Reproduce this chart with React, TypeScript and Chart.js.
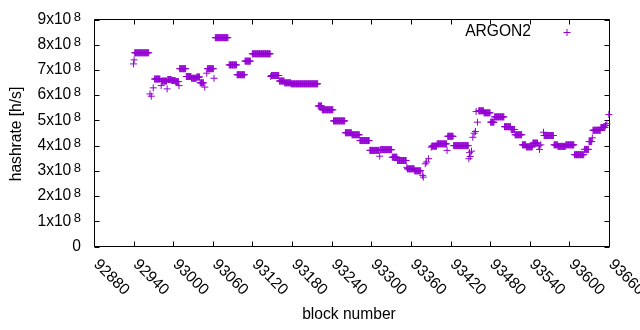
import React, { useEffect, useRef } from "react";
import { Chart, registerables } from "chart.js";

Chart.register(...registerables);

// Runs of consecutive blocks sharing the same hashrate (value in units of 1e8 h/s)
const runStart = [
  92939, 92940, 92941, 92964, 92966, 92969, 92971, 92981, 92982, 92990,
  92991, 92997, 93003, 93008, 93009, 93019, 93027, 93035, 93040, 93047,
  93050, 93051, 93061, 93063, 93084, 93096, 93108, 93119, 93147, 93148,
  93160, 93168, 93178, 93219, 93225, 93242, 93260, 93270, 93282, 93297,
  93312, 93313, 93331, 93339, 93353, 93354, 93365, 93377, 93378, 93381,
  93383, 93386, 93390, 93391, 93399, 93414, 93415, 93424, 93447, 93448,
  93449, 93451, 93453, 93455, 93457, 93458, 93460, 93462, 93470, 93480,
  93486, 93501, 93511, 93517, 93528, 93534, 93544, 93553, 93554, 93556,
  93560, 93561, 93576, 93582, 93594, 93607, 93622, 93629, 93634, 93635,
  93647, 93654, 93656, 93659,
];
const runEnd = [
  92939, 92940, 92962, 92964, 92966, 92969, 92979, 92981, 92989, 92990,
  92996, 93002, 93007, 93008, 93018, 93026, 93034, 93039, 93045, 93047,
  93050, 93060, 93061, 93082, 93095, 93107, 93116, 93146, 93147, 93159,
  93167, 93177, 93218, 93224, 93241, 93259, 93269, 93281, 93296, 93311,
  93312, 93330, 93338, 93352, 93353, 93364, 93374, 93377, 93378, 93381,
  93383, 93386, 93390, 93398, 93413, 93414, 93423, 93446, 93447, 93448,
  93449, 93451, 93453, 93455, 93457, 93458, 93460, 93469, 93479, 93485,
  93500, 93510, 93516, 93527, 93533, 93543, 93551, 93553, 93554, 93556,
  93560, 93575, 93581, 93593, 93606, 93621, 93628, 93633, 93634, 93646,
  93653, 93654, 93656, 93659,
];
const runValue = [
  7.24, 7.40, 7.68, 6.05, 5.96, 6.29, 6.64, 6.38, 6.56, 6.25,
  6.62, 6.58, 6.54, 6.38, 7.05, 6.74, 6.67, 6.72, 6.49, 6.32,
  6.87, 7.05, 6.67, 8.28, 7.20, 6.81, 7.35, 7.64, 6.74, 6.78,
  6.56, 6.49, 6.45, 5.57, 5.42, 4.98, 4.51, 4.43, 4.20, 3.81,
  3.58, 3.84, 3.54, 3.41, 3.14, 3.08, 3.00, 2.82, 2.75, 3.28,
  3.35, 3.48, 3.94, 3.98, 4.07, 3.81, 4.37, 4.00, 3.48, 3.72,
  3.57, 3.78, 4.33, 4.49, 4.56, 5.35, 4.93, 5.38, 5.30, 4.93,
  5.14, 4.75, 4.64, 4.43, 4.03, 3.95, 4.10, 4.00, 3.85, 4.03,
  4.53, 4.40, 4.03, 3.97, 4.03, 3.64, 3.85, 4.16, 4.31, 4.61,
  4.72, 4.80, 4.87, 5.23,
];

const xTicks = [
  92880, 92940, 93000, 93060, 93120, 93180, 93240, 93300, 93360, 93420,
  93480, 93540, 93600, 93660,
];
const yTicks = [0, 1, 2, 3, 4, 5, 6, 7, 8, 9];
const yExponent = "8";
const seriesLabel = "ARGON2";
const xTitle = "block number";
const yTitle = "hashrate [h/s]";

const COLOR = "#9400d3";
const FONT = '"Liberation Sans", Arial, sans-serif';
const FS = "15.6px";

function buildPoints() {
  const pts: { x: number; y: number }[] = [];
  for (let i = 0; i < runStart.length; i++) {
    for (let b = runStart[i]; b <= runEnd[i]; b++) {
      pts.push({ x: b, y: runValue[i] * 1e8 });
    }
  }
  return pts;
}

const gnuplotFrame = {
  id: "gnuplotFrame",
  beforeDatasetsDraw(chart: any) {
    const { ctx, chartArea } = chart;
    const xs = chart.scales.x;
    const ys = chart.scales.y;
    const { left, right, top, bottom } = chartArea;
    ctx.save();
    ctx.strokeStyle = "#000";
    ctx.lineWidth = 1;
    ctx.beginPath();
    ctx.rect(left, top, right - left, bottom - top);
    const tl = 5;
    for (const v of yTicks) {
      const y = Math.round(ys.getPixelForValue(v * 1e8)) + 0.5;
      ctx.moveTo(left, y);
      ctx.lineTo(left + tl, y);
      ctx.moveTo(right, y);
      ctx.lineTo(right - tl, y);
    }
    for (const v of xTicks) {
      const x = Math.round(xs.getPixelForValue(v) - 0.5) + 0.5;
      ctx.moveTo(x, bottom);
      ctx.lineTo(x, bottom - tl);
      ctx.moveTo(x, top);
      ctx.lineTo(x, top + tl);
    }
    ctx.stroke();
    ctx.restore();
  },
  afterDraw(chart: any) {
    const { ctx, chartArea } = chart;
    const xs = chart.scales.x;
    const ys = chart.scales.y;
    ctx.save();
    ctx.fillStyle = "#000";
    // y tick labels
    const labelRight = 81;
    for (const v of yTicks) {
      const y = ys.getPixelForValue(v * 1e8);
      ctx.textBaseline = "middle";
      ctx.textAlign = "right";
      if (v === 0) {
        ctx.font = `${FS} ${FONT}`;
        ctx.fillText("0", labelRight, y);
      } else {
        ctx.font = `13px ${FONT}`;
        const supW = ctx.measureText(yExponent).width;
        ctx.textBaseline = "alphabetic";
        ctx.fillText(yExponent, labelRight, y + 1);
        ctx.font = `${FS} ${FONT}`;
        ctx.textBaseline = "middle";
        ctx.fillText(`${v}x10`, labelRight - supW - 2.5, y);
      }
    }
    // x tick labels rotated
    ctx.font = `${FS} ${FONT}`;
    for (const v of xTicks) {
      const x = xs.getPixelForValue(v);
      ctx.save();
      ctx.translate(x + 1.5, chartArea.bottom + 15.5);
      ctx.rotate(Math.PI / 4);
      ctx.textAlign = "left";
      ctx.textBaseline = "middle";
      ctx.fillText(String(v), 0, 0);
      ctx.restore();
    }
    // axis titles
    ctx.textAlign = "center";
    ctx.textBaseline = "middle";
    ctx.fillText(xTitle, 349, 315);
    ctx.save();
    ctx.translate(17, 134);
    ctx.rotate(-Math.PI / 2);
    ctx.fillText(yTitle, 0, 0);
    ctx.restore();
    // key
    ctx.textAlign = "right";
    ctx.fillText(seriesLabel, 531, 32);
    ctx.strokeStyle = COLOR;
    ctx.lineWidth = 1;
    ctx.beginPath();
    ctx.moveTo(563.5, 32.5);
    ctx.lineTo(570.5, 32.5);
    ctx.moveTo(567, 29);
    ctx.lineTo(567, 36);
    ctx.stroke();
    ctx.restore();
  },
};

export default function App() {
  const ref = useRef<HTMLCanvasElement | null>(null);
  useEffect(() => {
    if (!ref.current) return;
    const chart = new Chart(ref.current, {
      type: "scatter",
      data: {
        datasets: [
          {
            label: seriesLabel,
            data: buildPoints(),
            pointStyle: "cross",
            pointRadius: 3.5,
            pointBorderWidth: 1,
            borderColor: COLOR,
            backgroundColor: COLOR,
            showLine: false,
            clip: false as any,
          },
        ],
      },
      options: {
        responsive: false,
        animation: false,
        devicePixelRatio: 1,
        layout: { padding: { left: 94.5, right: 30.5, top: 19.5, bottom: 83.5 } },
        scales: {
          x: { type: "linear", min: 92880, max: 93660, display: false },
          y: { type: "linear", min: 0, max: 9e8, display: false },
        },
        plugins: { legend: { display: false }, tooltip: { enabled: false } },
        events: [],
      },
      plugins: [gnuplotFrame],
    });
    return () => chart.destroy();
  }, []);
  return (
    <div style={{ position: "absolute", left: 0, top: 0, width: 640, height: 330, background: "#fff" }}>
      <canvas ref={ref} width={640} height={330} />
    </div>
  );
}
